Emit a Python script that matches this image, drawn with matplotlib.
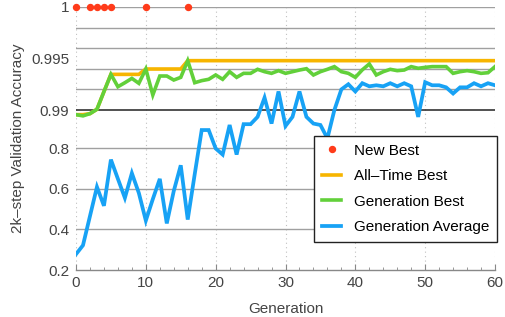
import numpy as np
import matplotlib
matplotlib.use("Agg")
import matplotlib.pyplot as plt
from matplotlib.ticker import FixedLocator, MultipleLocator

plt.rcParams['font.family'] = ['Liberation Sans', 'DejaVu Sans']

generations = list(range(61))

generation_average = [
    0.278, 0.322, 0.466, 0.61, 0.517, 0.745, 0.65, 0.556, 0.678, 0.58,
    0.444, 0.55, 0.65, 0.43, 0.59, 0.717, 0.449, 0.673, 0.891, 0.891,
    0.80, 0.77, 0.916, 0.77, 0.92, 0.92, 0.956, 0.9912, 0.923, 0.9918,
    0.911, 0.956, 0.9918, 0.956, 0.923, 0.916, 0.85, 0.990, 0.9920, 0.9925,
    0.9918, 0.9926, 0.9923, 0.9924, 0.9923, 0.9926, 0.9923, 0.9926, 0.9923, 0.956,
    0.9927, 0.9924, 0.9924, 0.9922, 0.9916, 0.9922, 0.9922, 0.9926, 0.9923, 0.9926,
    0.9924,
]

generation_best = [
    0.967, 0.961, 0.972, 0.99007, 0.99178, 0.99346, 0.99226, 0.99265, 0.99307, 0.99259,
    0.99398, 0.99146, 0.9933, 0.9933, 0.99291, 0.99317, 0.99479, 0.99265, 0.99285, 0.99298,
    0.9934, 0.99298, 0.99372, 0.99317, 0.99356, 0.99356, 0.99395, 0.99372, 0.99356, 0.99382,
    0.99356, 0.99372, 0.99388, 0.99401, 0.9934, 0.99372, 0.99395, 0.99421, 0.99372, 0.99356,
    0.99317, 0.9939, 0.99447, 0.9934, 0.99372, 0.99395, 0.99382, 0.99388, 0.99421, 0.99405,
    0.99414, 0.99421, 0.99421, 0.99421, 0.99356, 0.99372, 0.99382, 0.99372, 0.99356, 0.99362,
    0.99421,
]

all_time_best = [
    0.967, 0.967, 0.972, 0.99007, 0.99178, 0.99346, 0.99346, 0.99346, 0.99346, 0.99346,
    0.99398, 0.99398, 0.99398, 0.99398, 0.99398, 0.99398, 0.99479, 0.99479, 0.99479, 0.99479,
    0.99479, 0.99479, 0.99479, 0.99479, 0.99479, 0.99479, 0.99479, 0.99479, 0.99479, 0.99479,
    0.99479, 0.99479, 0.99479, 0.99479, 0.99479, 0.99479, 0.99479, 0.99479, 0.99479, 0.99479,
    0.99479, 0.99479, 0.99479, 0.99479, 0.99479, 0.99479, 0.99479, 0.99479, 0.99479, 0.99479,
    0.99479, 0.99479, 0.99479, 0.99479, 0.99479, 0.99479, 0.99479, 0.99479, 0.99479, 0.99479,
    0.99479,
]

new_best_generations = [0, 2, 3, 4, 5, 10, 16]
new_best_marker_level = [1.0, 1.0, 1.0, 1.0, 1.0, 1.0, 1.0]

y_ticks = [0.2, 0.4, 0.6, 0.8, 0.99, 0.995, 1.0]
y_tick_labels = ["0.2", "0.4", "0.6", "0.8", "0.99", "0.995", "1"]
x_ticks = [0, 10, 20, 30, 40, 50, 60]


def fwd(v):
    v = np.asarray(v, dtype=float)
    return np.where(v <= 0.99, (v - 0.2) / 0.79 * 160.0,
                    160.0 + (v - 0.99) / 0.01 * 103.0)


def inv(u):
    u = np.asarray(u, dtype=float)
    return np.where(u <= 160.0, 0.2 + u / 160.0 * 0.79,
                    0.99 + (u - 160.0) / 103.0 * 0.01)


fig = plt.figure(figsize=(5.05, 3.17), dpi=100)
ax = fig.add_axes([76 / 505, 1 - 270 / 317, 419 / 505, 263 / 317])
ax.set_yscale('function', functions=(fwd, inv))
ax.set_xlim(0, 60)
ax.set_ylim(0.2, 1.0)

# grid
for g in [0.4, 0.6, 0.8, 0.992, 0.994, 0.996, 0.998, 1.0]:
    ax.axhline(g, color='#a0a0a0', lw=1.0, zorder=1)
ax.axhline(0.99, color='#222222', lw=1.1, zorder=1)
for xv in x_ticks:
    ax.axvline(xv, color='#c0c0c0', lw=0.8, ls=(0, (1, 3)), zorder=0)

c_red = '#ff3b1a'
c_orange = '#f7b500'
c_green = '#62d03a'
c_blue = '#17a2f5'

ax.plot(generations, all_time_best, color=c_orange, lw=2.6, zorder=3,
        solid_joinstyle='miter', label='All\u2013Time Best')
ax.plot(generations, generation_best, color=c_green, lw=2.6, zorder=4,
        solid_joinstyle='miter', label='Generation Best')
ax.plot(generations, generation_average, color=c_blue, lw=2.7, zorder=4,
        solid_joinstyle='miter', label='Generation Average')
ax.plot(new_best_generations, new_best_marker_level, ls='none', marker='o',
        ms=4.3, color=c_red, zorder=6, clip_on=False, label='New Best')

for s in ['top', 'right', 'left']:
    ax.spines[s].set_visible(False)
ax.spines['bottom'].set_color('#888888')
ax.spines['bottom'].set_linewidth(1.0)

ax.yaxis.set_major_locator(FixedLocator(y_ticks))
ax.set_yticklabels(y_tick_labels)
ax.yaxis.set_minor_locator(FixedLocator([]))
ax.tick_params(axis='y', length=0, pad=5, labelsize=11, labelcolor='#444444')

ax.xaxis.set_major_locator(FixedLocator(x_ticks))
ax.xaxis.set_minor_locator(MultipleLocator(2))
ax.tick_params(axis='x', which='major', direction='in', length=4, width=0.8,
               color='#888888', labelsize=11, labelcolor='#444444', pad=4)
ax.tick_params(axis='x', which='minor', direction='in', length=2, width=0.6,
               color='#888888')

ax.set_xlabel('Generation', fontsize=11, color='#444444', labelpad=9)
ax.set_ylabel('2k\u2013step Validation Accuracy', fontsize=11, color='#444444', labelpad=4)

handles, labels = ax.get_legend_handles_labels()
order = [3, 0, 1, 2]
leg = ax.legend([handles[i] for i in order], [labels[i] for i in order],
                loc='upper left', bbox_to_anchor=(0.568, 0.5095), fontsize=11,
                frameon=True, fancybox=False, edgecolor='#222222',
                framealpha=1.0, borderaxespad=0.0, handlelength=1.3,
                handletextpad=0.8, labelspacing=0.75, borderpad=0.5)
leg.get_frame().set_linewidth(1.0)
leg.set_zorder(10)

fig.savefig('out.png', dpi=100)
